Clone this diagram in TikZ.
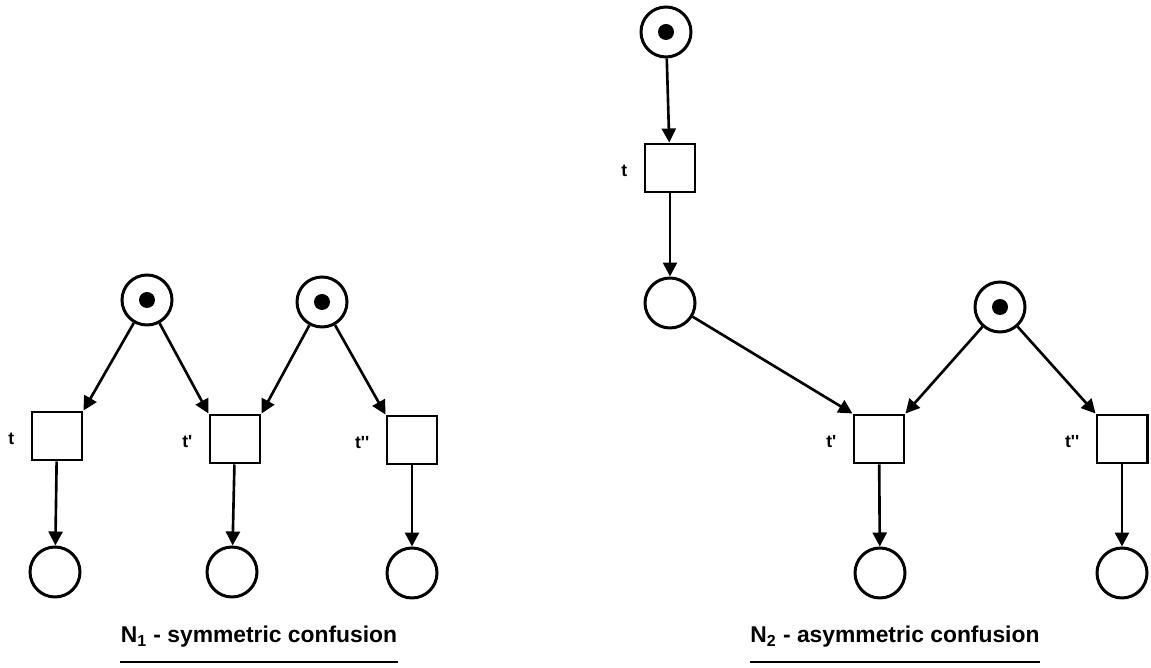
\documentclass[tikz,border=0pt]{standalone}
\usepackage{fontspec}
\setmainfont{Liberation Sans}
\usetikzlibrary{arrows.meta}

\tikzset{
	place/.style={circle, draw, line width=1.7pt, minimum size=1cm, inner sep=0pt},
	marked/.style={place, path picture={\fill (path picture bounding box.center) circle (0.16cm);}},
	trans/.style={rectangle, draw, line width=1.7pt, minimum width=1cm, minimum height=0.96cm, inner sep=0pt},
	arc/.style={-{Triangle[length=0.28cm,width=0.28cm]}, line width=1.5pt},
	tname/.style={label={[font=\bfseries, label distance=0.2cm, yshift=-0.06cm]left:#1}},
	caption/.style={font=\fontsize{13}{15}\selectfont\bfseries, inner sep=0pt}
}

\begin{document}
\begin{tikzpicture}

	\useasboundingbox (0,0) rectangle (23.02,13.36);

	% Net N1
	\node[marked] (p1) at (2.94,7.36) {};
	\node[marked] (p2) at (6.44,7.32) {};

	\node[trans, tname={t}] (t1) at (1.14,4.64) {};
	\node[trans, tname={t\textquotesingle}] (t2) at (4.70,4.58) {};
	\node[trans, tname={t\textquotesingle\textquotesingle}] (t3) at (8.24,4.56) {};

	\node[place] (o1) at (1.10,1.92) {};
	\node[place] (o2) at (4.64,1.92) {};
	\node[place] (o3) at (8.24,1.90) {};

	\draw[arc] (p1) -- (t1.north east);
	\draw[arc] (p1) -- (t2.north west);
	\draw[arc] (p2) -- (t2.north east);
	\draw[arc] (p2) -- (t3.north west);
	\draw[arc] (t1) -- (o1);
	\draw[arc] (t2) -- (o2);
	\draw[arc] (t3) -- (o3);

	% Net N2
	\node[marked] (q0) at (13.32,12.72) {};
	\node[trans, tname={t}] (u1) at (13.40,10.00) {};
	\node[place] (q1) at (13.40,7.30) {};
	\node[marked] (q2) at (20.00,7.22) {};

	\node[trans, tname={t\textquotesingle}] (u2) at (17.58,4.58) {};
	\node[trans, tname={t\textquotesingle\textquotesingle}] (u3) at (22.44,4.58) {};

	\node[place] (r2) at (17.60,1.90) {};
	\node[place] (r3) at (22.44,1.90) {};

	\draw[arc] (q0) -- (u1);
	\draw[arc] (u1) -- (q1);
	\draw[arc] (q1) -- (u2.north west);
	\draw[arc] (q2) -- (u2.north east);
	\draw[arc] (q2) -- (u3.north west);
	\draw[arc] (u2) -- (r2);
	\draw[arc] (u3) -- (r3);

	% Captions
	\node[caption] (cap1) at (5.18,0.62) {N\textsubscript{1} - symmetric confusion};
	\node[caption] (cap2) at (17.90,0.62) {N\textsubscript{2} - asymmetric confusion};
	\draw[line width=1.2pt] (cap1.west |- 0,0.12) -- (cap1.east |- 0,0.12);
	\draw[line width=1.2pt] (cap2.west |- 0,0.12) -- (cap2.east |- 0,0.12);

\end{tikzpicture}
\end{document}
